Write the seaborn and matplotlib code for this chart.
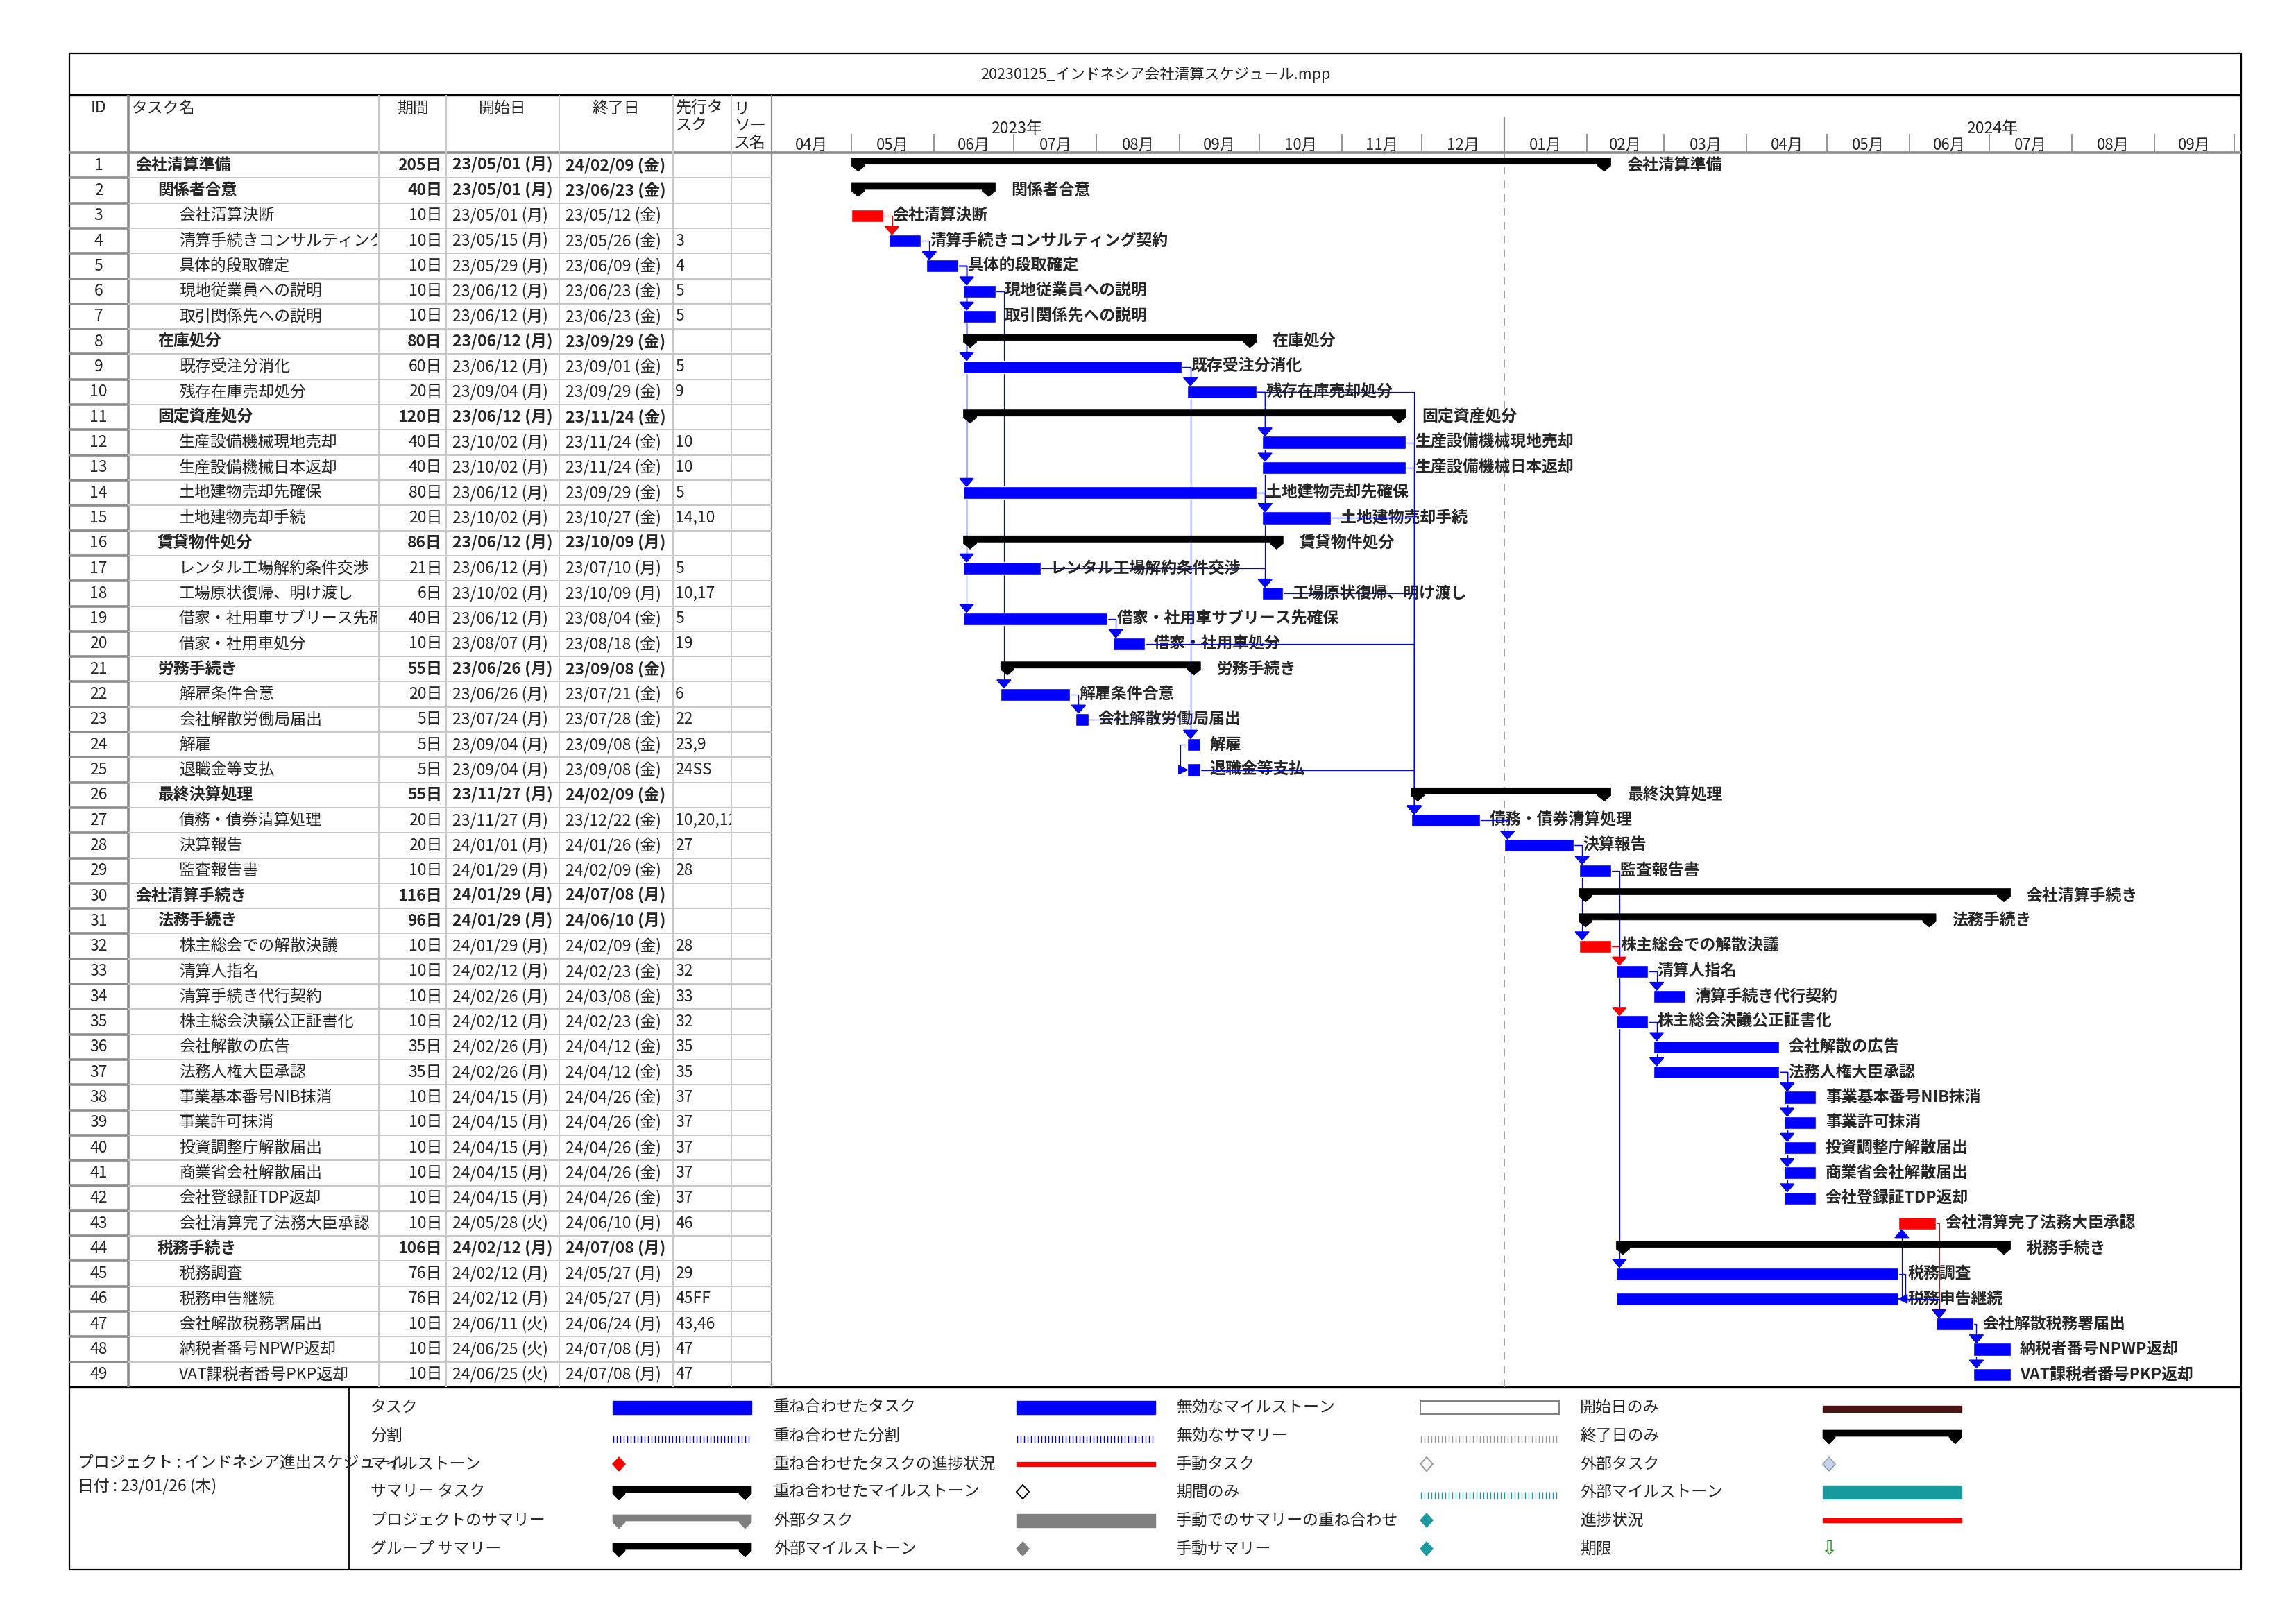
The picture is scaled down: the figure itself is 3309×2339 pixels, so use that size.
import numpy as np
import pandas as pd
import matplotlib.pyplot as plt
import matplotlib.dates as mdates
from matplotlib.patches import Rectangle, Polygon
import seaborn as sns

sns.set_theme(style='white')
plt.rcParams['font.family'] = ['Noto Sans CJK JP', 'DejaVu Sans']

task_names = [
    '会社清算準備', '関係者合意', '会社清算決断', '清算手続きコンサルティング契約', '具体的段取確定',
    '現地従業員への説明', '取引関係先への説明', '在庫処分', '既存受注分消化', '残存在庫売却処分',
    '固定資産処分', '生産設備機械現地売却', '生産設備機械日本返却', '土地建物売却先確保', '土地建物売却手続',
    '賃貸物件処分', 'レンタル工場解約条件交渉', '工場原状復帰、明け渡し', '借家・社用車サブリース先確保', '借家・社用車処分',
    '労務手続き', '解雇条件合意', '会社解散労働局届出', '解雇', '退職金等支払',
    '最終決算処理', '債務・債券清算処理', '決算報告', '監査報告書', '会社清算手続き',
    '法務手続き', '株主総会での解散決議', '清算人指名', '清算手続き代行契約', '株主総会決議公正証書化',
    '会社解散の広告', '法務人権大臣承認', '事業基本番号NIB抹消', '事業許可抹消', '投資調整庁解散届出',
    '商業省会社解散届出', '会社登録証TDP返却', '会社清算完了法務大臣承認', '税務手続き', '税務調査',
    '税務申告継続', '会社解散税務署届出', '納税者番号NPWP返却', 'VAT課税者番号PKP返却',
]
outline_levels = [0, 1, 2, 2, 2, 2, 2, 1, 2, 2,
                  1, 2, 2, 2, 2, 1, 2, 2, 2, 2,
                  1, 2, 2, 2, 2, 1, 2, 2, 2, 0,
                  1, 2, 2, 2, 2, 2, 2, 2, 2, 2,
                  2, 2, 2, 1, 2, 2, 2, 2, 2]
durations = [205, 40, 10, 10, 10, 10, 10, 80, 60, 20,
             120, 40, 40, 80, 20, 86, 21, 6, 40, 10,
             55, 20, 5, 5, 5, 55, 20, 20, 10, 116,
             96, 10, 10, 10, 10, 35, 35, 10, 10, 10,
             10, 10, 10, 106, 76, 76, 10, 10, 10]
start_dates = ['2023-05-01', '2023-05-01', '2023-05-01', '2023-05-15', '2023-05-29',
               '2023-06-12', '2023-06-12', '2023-06-12', '2023-06-12', '2023-09-04',
               '2023-06-12', '2023-10-02', '2023-10-02', '2023-06-12', '2023-10-02',
               '2023-06-12', '2023-06-12', '2023-10-02', '2023-06-12', '2023-08-07',
               '2023-06-26', '2023-06-26', '2023-07-24', '2023-09-04', '2023-09-04',
               '2023-11-27', '2023-11-27', '2024-01-01', '2024-01-29', '2024-01-29',
               '2024-01-29', '2024-01-29', '2024-02-12', '2024-02-26', '2024-02-12',
               '2024-02-26', '2024-02-26', '2024-04-15', '2024-04-15', '2024-04-15',
               '2024-04-15', '2024-04-15', '2024-05-28', '2024-02-12', '2024-02-12',
               '2024-02-12', '2024-06-11', '2024-06-25', '2024-06-25']
end_dates = ['2024-02-09', '2023-06-23', '2023-05-12', '2023-05-26', '2023-06-09',
             '2023-06-23', '2023-06-23', '2023-09-29', '2023-09-01', '2023-09-29',
             '2023-11-24', '2023-11-24', '2023-11-24', '2023-09-29', '2023-10-27',
             '2023-10-09', '2023-07-10', '2023-10-09', '2023-08-04', '2023-08-18',
             '2023-09-08', '2023-07-21', '2023-07-28', '2023-09-08', '2023-09-08',
             '2024-02-09', '2023-12-22', '2024-01-26', '2024-02-09', '2024-07-08',
             '2024-06-10', '2024-02-09', '2024-02-23', '2024-03-08', '2024-02-23',
             '2024-04-12', '2024-04-12', '2024-04-26', '2024-04-26', '2024-04-26',
             '2024-04-26', '2024-04-26', '2024-06-10', '2024-07-08', '2024-05-27',
             '2024-05-27', '2024-06-24', '2024-07-08', '2024-07-08']
predecessors = ['', '', '', '3', '4', '5', '5', '', '5', '9',
                '', '10', '10', '5', '14,10', '', '5', '10,17', '5', '19',
                '', '6', '22', '23,9', '24SS', '', '10,20,12,13,15,18,25', '27', '28', '',
                '', '28', '32', '33', '32', '35', '35', '37', '37', '37',
                '37', '37', '46', '', '29', '45FF', '43,46', '47', '47']
critical_tasks = [3, 32, 43]
year_labels = ['2023年', '2024年']

legend_groups = [
    [('タスク', 'bar', '#0000ff'), ('分割', 'ticks', '#0000ff'), ('マイルストーン', 'diamond', '#ff0000'),
     ('サマリー タスク', 'summary', '#000000'), ('プロジェクトのサマリー', 'summary', '#7f7f7f'),
     ('グループ サマリー', 'summary', '#000000')],
    [('重ね合わせたタスク', 'bar', '#0000ff'), ('重ね合わせた分割', 'ticks', '#0000ff'),
     ('重ね合わせたタスクの進捗状況', 'thin', '#ff0000'), ('重ね合わせたマイルストーン', 'diamond_open', '#000000'),
     ('外部タスク', 'bar', '#808080'), ('外部マイルストーン', 'diamond', '#808080')],
    [('無効なマイルストーン', 'bar_open', '#808080'), ('無効なサマリー', 'ticks', '#9a9a9a'),
     ('手動タスク', 'diamond_open', '#9a9a9a'), ('期間のみ', 'ticks', '#1a9a9f'),
     ('手動でのサマリーの重ね合わせ', 'diamond', '#1a9a9f'), ('手動サマリー', 'diamond', '#1a9a9f')],
    [('開始日のみ', 'thin_dark', '#4a1414'), ('終了日のみ', 'summary', '#000000'),
     ('外部タスク', 'diamond_light', '#c9d5e8'), ('外部マイルストーン', 'bar', '#179a9e'),
     ('進捗状況', 'thin', '#ff0000'), ('期限', 'arrow', '#1a8a1a')],
]

# ---- Layout (pixels) ----
W, H = 3309, 2339
L, R = 100, 3230
Y_TOP, Y_TITLE, Y_HEAD, Y_ROWS, Y_BOT = 77, 137, 220, 1999, 2262
COLS = [100, 185, 546, 643, 806, 970, 1054, 1112]
PX_PER_DAY = 3.84
GRAY = '#8c8c8c'
LIGHT = '#c8c8c8'
BLUE = '#0000ff'
RED = '#ff0000'
FS = 16.5

n = len(task_names)
rows = np.arange(1, n + 1)
levels = np.array(outline_levels)
starts = pd.to_datetime(start_dates)
ends = pd.to_datetime(end_dates)
x_start = mdates.date2num(starts)
x_end = mdates.date2num(ends) + 1
weekday_jp = '月火水木金土日'


def fmt_date(d):
    return d.strftime('%y/%m/%d') + ' (' + weekday_jp[d.weekday()] + ')'


def box(x0, y0, x1, y1):
    return [x0 / W, 1 - y1 / H, (x1 - x0) / W, (y1 - y0) / H]


def summary_bar(ax, x0, x1, yt, yb, ys, ytip, cap, color, z=4):
    verts = [(x0, yt), (x1, yt), (x1, ys), (x1 - cap / 2, ytip), (x1 - cap, ys), (x1 - cap, yb),
             (x0 + cap, yb), (x0 + cap, ys), (x0 + cap / 2, ytip), (x0, ys)]
    ax.add_patch(Polygon(verts, closed=True, facecolor=color, edgecolor=color, lw=0.5, zorder=z))


fig = plt.figure(figsize=(W / 100, H / 100), dpi=100)

page = fig.add_axes([0, 0, 1, 1])
page.set_xlim(0, W)
page.set_ylim(H, 0)
page.axis('off')

tab = fig.add_axes(box(COLS[0], Y_HEAD, COLS[-1], Y_ROWS))
tab.set_xlim(COLS[0], COLS[-1])
tab.set_ylim(n + 0.5, 0.5)
tab.axis('off')

x_min = mdates.date2num(pd.Timestamp('2023-04-01'))
x_max = x_min + (R - COLS[-1]) / PX_PER_DAY
gantt = fig.add_axes(box(COLS[-1], Y_HEAD, R, Y_ROWS))
gantt.set_xlim(x_min, x_max)
gantt.set_ylim(n + 0.5, 0.5)
gantt.axis('off')

head = fig.add_axes(box(COLS[-1], Y_TITLE, R, Y_HEAD))
head.set_xlim(x_min, x_max)
head.set_ylim(1, 0)
head.axis('off')

# ---- Frame and title ----
page.add_patch(Rectangle((L, Y_TOP), R - L, Y_BOT - Y_TOP, fill=False, edgecolor='black', lw=1.6))
page.hlines(Y_TITLE, L, R, color='black', lw=2.4)
page.hlines(Y_ROWS, L, R, color='black', lw=2.4)
page.hlines(Y_HEAD, L, R, color=GRAY, lw=2.6)
page.text((L + R) / 2, (Y_TOP + Y_TITLE) / 2, '20230125_インドネシア会社清算スケジュール.mpp',
          ha='center', va='center', fontsize=FS - 1)

# column separators
page.vlines(COLS[1], Y_TITLE, Y_ROWS, color=GRAY, lw=2.6)
page.vlines(COLS[2:-1], Y_TITLE, Y_ROWS, color=LIGHT, lw=1.4)
page.vlines(COLS[-1], Y_TITLE, Y_ROWS, color=GRAY, lw=1.6)

# header labels
page.text(142, 156, 'ID', ha='center', va='center', fontsize=FS)
page.text(190, 156, 'タスク名', ha='left', va='center', fontsize=FS)
page.text(595, 156, '期間', ha='center', va='center', fontsize=FS)
page.text(724, 156, '開始日', ha='center', va='center', fontsize=FS)
page.text(888, 156, '終了日', ha='center', va='center', fontsize=FS)
page.text(974, 155, '先行タ', ha='left', va='center', fontsize=FS)
page.text(974, 180, 'スク', ha='left', va='center', fontsize=FS)
page.text(1058, 157, 'リ', ha='left', va='center', fontsize=FS)
page.text(1058, 182, 'ソー', ha='left', va='center', fontsize=FS)
page.text(1058, 206, 'ス名', ha='left', va='center', fontsize=FS)

# ---- Table ----
tab.hlines(rows[:-1] + 0.5, COLS[1], COLS[-1], color=LIGHT, lw=1.4)
tab.hlines(rows[:-1] + 0.5, COLS[0], COLS[1], color=GRAY, lw=2.6)
indent = {0: 195, 1: 227, 2: 258}
for i in range(n):
    r = rows[i]
    lv = outline_levels[i]
    wt = 'bold' if lv < 2 else 'normal'
    tab.text(142, r, str(r), ha='center', va='center', fontsize=FS)
    t = tab.text(indent[lv], r, task_names[i], ha='left', va='center', fontsize=FS, fontweight=wt,
                 clip_on=True)
    t.set_clip_path(Rectangle((indent[lv], r - 0.5), COLS[2] - 2 - indent[lv], 1, transform=tab.transData))
    tab.text(COLS[3] - 6, r, f'{durations[i]}日', ha='right', va='center', fontsize=FS, fontweight=wt)
    tab.text(COLS[3] + 9, r, fmt_date(starts[i]), ha='left', va='center', fontsize=FS, fontweight=wt)
    tab.text(COLS[4] + 9, r, fmt_date(ends[i]), ha='left', va='center', fontsize=FS, fontweight=wt)
    p = tab.text(COLS[5] + 3, r, predecessors[i], ha='left', va='center', fontsize=FS, clip_on=True)
    p.set_clip_path(Rectangle((COLS[5], r - 0.5), COLS[6] - COLS[5] - 1, 1, transform=tab.transData))

# ---- Timescale ----
month_starts = pd.date_range('2023-04-01', '2024-10-01', freq='MS')
ms_num = mdates.date2num(month_starts)
for a, b, d in zip(ms_num[:-1], ms_num[1:], month_starts[:-1]):
    head.text((a + b) / 2, 0.87, d.strftime('%m') + '月', ha='center', va='center', fontsize=FS - 0.5)
head.vlines(ms_num[1:], 0.67, 1.0, color=GRAY, lw=1.3)
year_mid = mdates.date2num(pd.to_datetime(['2023-07-02', '2024-07-02']))
for xm, lab in zip(year_mid, year_labels):
    head.text(xm, 0.58, lab, ha='center', va='center', fontsize=FS)
new_year = mdates.date2num(pd.Timestamp('2024-01-01'))
head.vlines(new_year, 0.37, 1.0, color=GRAY, lw=1.6)
gantt.axvline(new_year, color='#9a9a9a', lw=1.3, ls=(0, (6, 5)), zorder=1)

# ---- Bars ----
is_task = levels == 2
bar_colors = np.array([RED if r in critical_tasks else BLUE for r in rows])
gantt.barh(rows[is_task], (x_end - x_start)[is_task], left=x_start[is_task], height=0.5,
           color=bar_colors[is_task], zorder=4)
for i in np.where(~is_task)[0]:
    r = rows[i]
    summary_bar(gantt, x_start[i], x_end[i], r - 0.29, r - 0.04, r + 0.02, r + 0.24, 5.0, 'black')

for i in range(n):
    off = 6.0 if outline_levels[i] < 2 else 3.5
    gantt.text(x_end[i] + off, rows[i], task_names[i], ha='left', va='center', fontsize=FS,
               fontweight='bold', zorder=2)

# ---- Links ----
AW, AH = 2.6, 0.32


def draw_link(p, s, kind):
    col = RED if p in critical_tasks else BLUE
    yp, ys = p, s
    if kind == 'FS':
        x0 = x_end[p - 1]
        xa = x_start[s - 1] + 1.2
        if ys > yp:
            tip = ys - 0.25
            base = tip - AH
        else:
            tip = ys + 0.25
            base = tip + AH
        gantt.plot([x0, xa, xa], [yp, yp, base], color=col, lw=0.9, zorder=3)
        tri = [(xa - AW, base), (xa + AW, base), (xa, tip)]
    elif kind == 'FF':
        x0 = x_end[p - 1]
        xe = x_end[s - 1]
        xr = max(x0, xe) + 2.5
        gantt.plot([x0, xr, xr, xe + 3.2], [yp, yp, ys, ys], color=col, lw=0.9, zorder=3)
        tri = [(xe + 3.2, ys - 0.17), (xe + 3.2, ys + 0.17), (xe, ys)]
    else:
        x0 = x_start[p - 1]
        xs = x_start[s - 1]
        xl = min(x0, xs) - 2.5
        gantt.plot([x0, xl, xl, xs - 3.2], [yp, yp, ys, ys], color=col, lw=0.9, zorder=3)
        tri = [(xs - 3.2, ys - 0.17), (xs - 3.2, ys + 0.17), (xs, ys)]
    gantt.add_patch(Polygon(tri, closed=True, color=col, zorder=5))


for i, pred in enumerate(predecessors):
    if not pred:
        continue
    for item in pred.split(','):
        kind = 'FS'
        if item.endswith(('SS', 'FF')):
            kind = item[-2:]
            item = item[:-2]
        draw_link(int(item), i + 1, kind)

# ---- Legend ----
page.vlines(503, Y_ROWS, Y_BOT, color='black', lw=1.3)
page.text(112, 2108, 'プロジェクト : インドネシア進出スケジュール', ha='left', va='center', fontsize=FS)
page.text(112, 2142, '日付 : 23/01/26 (木)', ha='left', va='center', fontsize=FS)

leg_label_x = [534, 1115, 1695, 2277]
leg_sym_x = [883, 1465, 2047, 2627]
leg_row_y = [2028, 2069, 2110, 2150, 2191, 2232]
SW = 200
for gx, sx, items in zip(leg_label_x, leg_sym_x, legend_groups):
    for y, (lab, kind, col) in zip(leg_row_y, items):
        page.text(gx, y, lab, ha='left', va='center', fontsize=FS)
        if kind == 'bar':
            page.add_patch(Rectangle((sx, y - 9.5), SW, 19, color=col))
        elif kind == 'bar_open':
            page.add_patch(Rectangle((sx, y - 9.5), SW, 19, facecolor='white', edgecolor=col, lw=1.4))
        elif kind == 'ticks':
            page.vlines(np.arange(sx + 1, sx + SW, 5), y, y + 10, color=col, lw=1.0)
        elif kind == 'thin':
            page.add_patch(Rectangle((sx, y - 3), SW, 6, color=col))
        elif kind == 'thin_dark':
            page.add_patch(Rectangle((sx, y - 2), SW, 9, color=col))
        elif kind == 'summary':
            summary_bar(page, sx, sx + SW, y - 8, y + 1, y + 3, y + 12, 18, col)
        elif kind in ('diamond', 'diamond_open', 'diamond_light'):
            dv = [(sx + 9, y - 10), (sx + 18, y), (sx + 9, y + 10), (sx, y)]
            if kind == 'diamond':
                page.add_patch(Polygon(dv, closed=True, color=col))
            elif kind == 'diamond_open':
                page.add_patch(Polygon(dv, closed=True, facecolor='white', edgecolor=col, lw=1.4))
            else:
                page.add_patch(Polygon(dv, closed=True, facecolor=col, edgecolor='#8a98b8', lw=1.0))
        elif kind == 'arrow':
            page.text(sx + 9, y, '⇩', ha='center', va='center', fontsize=20, color=col,
                      family='DejaVu Sans')

fig.savefig('out.png', dpi=100, facecolor='white')
